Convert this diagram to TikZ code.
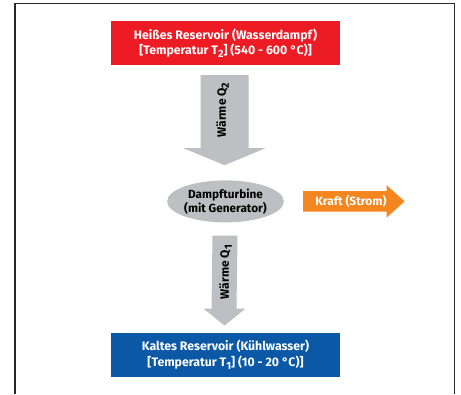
\documentclass[tikz,border=0pt]{standalone}
\usepackage{fontspec}
\setmainfont{Fira Sans}
\usetikzlibrary{positioning, calc, shapes.geometric, backgrounds}
\definecolor{hotred}{RGB}{237,28,36}
\definecolor{coldblue}{RGB}{10,88,166}
\definecolor{heatgray}{RGB}{190,191,194}
\definecolor{powerorange}{RGB}{245,134,31}
\newcommand{\lowidx}[1]{\raisebox{-3pt}{\fontsize{10.5}{10.5}\selectfont #1}}
\tikzset{
    x=1pt, y=-1pt, % one unit is one pixel of the page, y runs downwards
    reservoir/.style={minimum width=229pt, minimum height=44pt, inner sep=0pt,
        text=white, align=center, font=\fontsize{12.3}{15.5}\selectfont\bfseries},
    turbine/.style={ellipse, fill=heatgray, minimum width=116pt, minimum height=42pt,
        inner sep=0pt, align=center, font=\fontsize{11.8}{14}\selectfont\bfseries},
    heat/.style={fill=heatgray}, % the grey block arrows
    heatlabel/.style={rotate=90, font=\fontsize{12}{12}\selectfont\bfseries},
}

\begin{document}
\begin{tikzpicture}
    \useasboundingbox (0,0) rectangle (461,394);
    \draw[line width=1.3pt, black!85] (15,394) |- (454.5,3.5) -- (454.5,394);

    \node[reservoir, fill=hotred] (hot) at (225.5,43)
        {Heißes Reservoir (Wasserdampf)\\ {[}Temperatur T\lowidx{2}] (540 - 600 °C)]};
    \node[turbine, below=115pt of hot] (turb) {Dampfturbine\\(mit Generator)};
    \node[reservoir, fill=coldblue, below=110pt of turb] (cold)
        {Kaltes Reservoir (Kühlwasser)\\ {[}Temperatur T\lowidx{1}] (10 - 20 °C)]};
    \node[right=19pt of turb, text=white, font=\fontsize{12}{12}\selectfont\bfseries,
        inner sep=0pt, minimum width=83pt, minimum height=20pt] (power) {\hspace{12pt}Kraft (Strom)};

    % heat flowing in from the hot side
    \fill[heat] ($(hot.south)+(-25,10)$) -- ($(hot.south)+(23,10)$) -- ($(turb.north)+(23,-32)$)
        -- ($(turb.north)+(40,-32)$) -- ($(turb.north)+(-1,-15)$) -- ($(turb.north)+(-42,-32)$)
        -- ($(turb.north)+(-25,-32)$) -- cycle;
    \node[heatlabel] (q2) at ($(hot.south)!0.39!(turb.north)+(-3,0)$) {Wärme Q\lowidx{2}};

    % heat given off to the cold side
    \fill[heat] ($(turb.south)+(-13,13)$) -- ($(turb.south)+(12,13)$) -- ($(cold.north)+(11,-24)$)
        -- ($(cold.north)+(20,-24)$) -- ($(cold.north)+(-1,-7)$) -- ($(cold.north)+(-22,-24)$)
        -- ($(cold.north)+(-14,-24)$) -- cycle;
    \node[heatlabel] (q1) at ($(turb.south)!0.45!(cold.north)$) {Wärme Q\lowidx{1}};

    % work delivered
    \begin{scope}[on background layer]
    \fill[powerorange] (power.north west) -- (power.north east) -- ($(power.north east)+(0,-6)$)
        -- ($(power.east)+(18,0)$) -- ($(power.south east)+(0,6)$) -- (power.south east)
        -- (power.south west) -- cycle;
    \end{scope}
\end{tikzpicture}
\end{document}
